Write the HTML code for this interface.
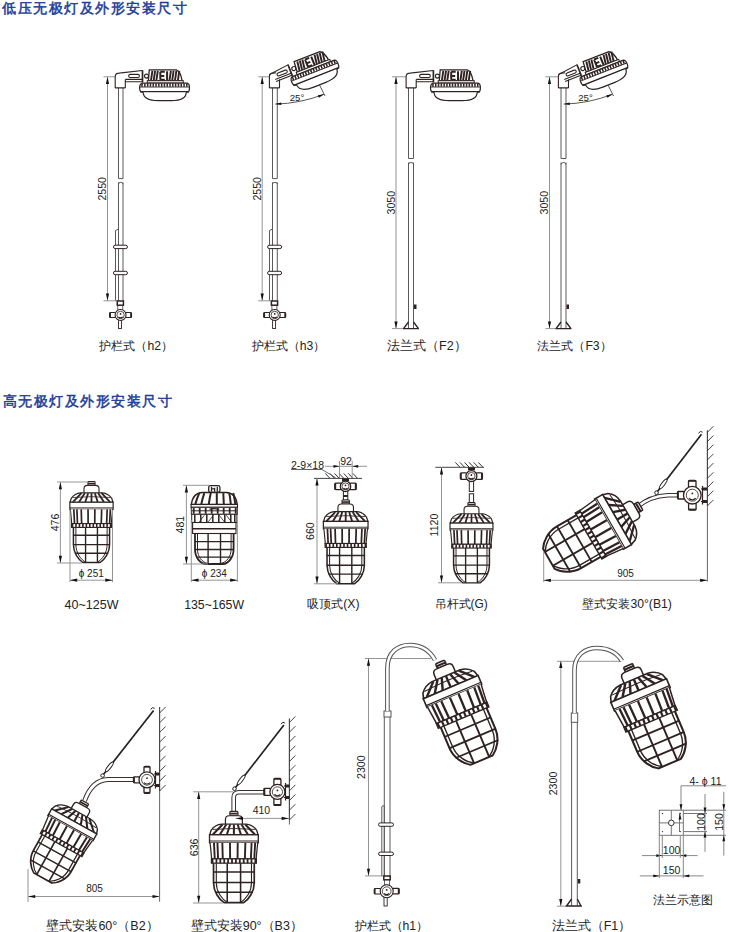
<!DOCTYPE html>
<html><head><meta charset="utf-8"><style>
html,body{margin:0;padding:0;background:#fff;width:730px;height:932px;overflow:hidden}
svg{display:block;font-family:"Liberation Sans",sans-serif}
</style></head><body>
<svg width="730" height="932" viewBox="0 0 730 932">
<text x="2" y="7.6" dominant-baseline="central" font-size="14.2" letter-spacing="1.5" fill="#1d3d98" stroke="#1d3d98" stroke-width="0.5">低压无极灯及外形安装尺寸</text>
<text x="2.5" y="400.7" dominant-baseline="central" font-size="14.2" letter-spacing="1.5" fill="#1d3d98" stroke="#1d3d98" stroke-width="0.5">高无极灯及外形安装尺寸</text>
<text x="99.4" y="346.2" text-anchor="start" dominant-baseline="central" font-size="12.2" fill="#222">护栏式（h2）</text>
<text x="251.7" y="346.2" text-anchor="start" dominant-baseline="central" font-size="12.2" fill="#222">护栏式（h3）</text>
<text x="387" y="346.2" text-anchor="start" dominant-baseline="central" font-size="12.5" fill="#222">法兰式（F2）</text>
<text x="537.4" y="346.2" text-anchor="start" dominant-baseline="central" font-size="12.2" fill="#222">法兰式（F3）</text>
<text x="64.6" y="605" text-anchor="start" dominant-baseline="central" font-size="12.5" fill="#222">40~125W</text>
<text x="184.2" y="605" text-anchor="start" dominant-baseline="central" font-size="12.3" fill="#222">135~165W</text>
<text x="307.2" y="604" text-anchor="start" dominant-baseline="central" font-size="12.2" fill="#222">吸顶式(X)</text>
<text x="434.6" y="604" text-anchor="start" dominant-baseline="central" font-size="11.9" fill="#222">吊杆式(G)</text>
<text x="582.4" y="603.5" text-anchor="start" dominant-baseline="central" font-size="12.2" fill="#222">壁式安装30°(B1)</text>
<text x="46.4" y="926" text-anchor="start" dominant-baseline="central" font-size="12.5" fill="#222">壁式安装60°（B2）</text>
<text x="190.7" y="926" text-anchor="start" dominant-baseline="central" font-size="12.5" fill="#222">壁式安装90°（B3）</text>
<text x="354.6" y="926" text-anchor="start" dominant-baseline="central" font-size="12.2" fill="#222">护栏式（h1）</text>
<text x="551.7" y="926" text-anchor="start" dominant-baseline="central" font-size="12.5" fill="#222">法兰式（F1）</text>
<text x="653.3" y="900" text-anchor="start" dominant-baseline="central" font-size="11.9" fill="#222">法兰示意图</text>
<g transform="translate(91.5,481.5) rotate(0) scale(0.9878048780487805)"><rect x="-3.6" y="0" width="7.2" height="3.9" rx="0.8" fill="#fff" stroke="#2e2222" stroke-width="1.1"/><line x1="-3.4" y1="2" x2="3.4" y2="2" stroke="#2e2222" stroke-width="1.6"/><path d="M-7.6,11.6 L-7.6,7.2 Q-7.6,3.9 -4.2,3.9 L4.2,3.9 Q7.6,3.9 7.6,7.2 L7.6,11.6" fill="#fff" stroke="#2e2222" stroke-width="1.1"/><path d="M-21.7,21 L-20.5,17 Q-17,12 -11,11.5 L11,11.5 Q17,12 20.5,17 L21.7,21 Z" fill="#fff" stroke="#2e2222" stroke-width="1.2"/><line x1="-10.2" y1="11.8" x2="-18.9" y2="20.8" stroke="#2e2222" stroke-width="1.8"/><line x1="-6.8" y1="11.8" x2="-12.6" y2="20.8" stroke="#2e2222" stroke-width="1.8"/><line x1="-3.4" y1="11.8" x2="-6.3" y2="20.8" stroke="#2e2222" stroke-width="1.8"/><line x1="0.0" y1="11.8" x2="0.0" y2="20.8" stroke="#2e2222" stroke-width="1.8"/><line x1="3.4" y1="11.8" x2="6.3" y2="20.8" stroke="#2e2222" stroke-width="1.8"/><line x1="6.8" y1="11.8" x2="12.6" y2="20.8" stroke="#2e2222" stroke-width="1.8"/><line x1="10.2" y1="11.8" x2="18.9" y2="20.8" stroke="#2e2222" stroke-width="1.8"/><path d="M-19,16.2 Q0,14.5 19,16.2" fill="none" stroke="#2e2222" stroke-width="0.8"/><rect x="-21.9" y="21" width="43.8" height="7.2" fill="#fff" stroke="#2e2222" stroke-width="1.2"/><line x1="-21.9" y1="26.7" x2="21.9" y2="26.7" stroke="#2e2222" stroke-width="0.9"/><path d="M-21.4,28.2 C-20.8,34 -20.4,38 -20,42.6 L20,42.6 C20.4,38 20.8,34 21.4,28.2" fill="#fff" stroke="#2e2222" stroke-width="1.1"/><line x1="-17.9" y1="28.2" x2="-17.2" y2="42.6" stroke="#2e2222" stroke-width="1.7"/><line x1="-14.8" y1="28.2" x2="-14.2" y2="42.6" stroke="#2e2222" stroke-width="1.7"/><line x1="-10.4" y1="28.2" x2="-10.0" y2="42.6" stroke="#2e2222" stroke-width="1.7"/><line x1="-3.5" y1="28.2" x2="-3.4" y2="42.6" stroke="#2e2222" stroke-width="1.7"/><line x1="3.4" y1="28.2" x2="3.3" y2="42.6" stroke="#2e2222" stroke-width="1.7"/><line x1="10.3" y1="28.2" x2="9.9" y2="42.6" stroke="#2e2222" stroke-width="1.7"/><line x1="15.9" y1="28.2" x2="15.3" y2="42.6" stroke="#2e2222" stroke-width="1.7"/><line x1="19.1" y1="28.2" x2="18.3" y2="42.6" stroke="#2e2222" stroke-width="1.7"/><rect x="-20.2" y="42.6" width="40.4" height="3.9" fill="#fff" stroke="#2e2222" stroke-width="1.1"/><line x1="-20" y1="44.55" x2="20" y2="44.55" stroke="#2e2222" stroke-width="3.9" stroke-dasharray="1.6 1.9"/><path d="M-18.3,46.5 L-18.3,64 C-18.3,72 -13.5,79 -8.8,82 L8.8,82 C13.5,79 18.3,72 18.3,64 L18.3,46.5" fill="none" stroke="#2e2222" stroke-width="1.5"/><path d="M-15.8,46.5 L-15.8,64 C-15.8,72 -11,79 -5.5,82 M15.8,46.5 L15.8,64 C15.8,72 11,79 5.5,82" fill="none" stroke="#2e2222" stroke-width="1"/><path d="M-6,46.5 L-6,82 M6,46.5 L6,82" fill="none" stroke="#2e2222" stroke-width="1.4"/><path d="M-18.6,54.4 L18.6,54.4 M-18.6,63.9 L18.6,63.9 M-17,72.7 L17,72.7" fill="none" stroke="#2e2222" stroke-width="1.4"/></g>
<line x1="60.4" y1="482" x2="60.4" y2="563" stroke="#959595" stroke-width="1"/>
<path d="M60.4,482.0 L62.0,489.2 L58.8,489.2 Z" fill="#111"/>
<path d="M60.4,563.0 L58.8,555.8 L62.0,555.8 Z" fill="#111"/>
<text x="55" y="522.5" transform="rotate(-90 55 522.5)" text-anchor="middle" dominant-baseline="central" font-size="10.6" fill="#222">476</text>
<line x1="57" y1="482" x2="88" y2="482" stroke="#959595" stroke-width="1"/>
<line x1="57" y1="563" x2="82" y2="563" stroke="#959595" stroke-width="1"/>
<line x1="70" y1="510" x2="70" y2="582" stroke="#959595" stroke-width="1"/>
<line x1="112.5" y1="510" x2="112.5" y2="582" stroke="#959595" stroke-width="1"/>
<line x1="70" y1="580.2" x2="112.5" y2="580.2" stroke="#959595" stroke-width="1"/>
<path d="M70.0,580.2 L77.2,578.6 L77.2,581.8 Z" fill="#111"/>
<path d="M112.5,580.2 L105.3,581.8 L105.3,578.6 Z" fill="#111"/>
<text x="91.25" y="573.6" text-anchor="middle" dominant-baseline="central" font-size="10" fill="#222">ϕ 251</text>
<g transform="translate(214.3,485.3) rotate(0) scale(1.0)"><rect x="-5.6" y="0.4" width="11.2" height="6.8" rx="1.8" fill="#fff" stroke="#2e2222" stroke-width="1.3"/><path d="M-2.8,1.5 L-2.8,6.5 M0.3,2.5 L0.3,6.5 M3,1.5 L3,6.5 M-2.8,3.5 L0.3,3.5" stroke="#2e2222" stroke-width="1.3"/><path d="M-23,19.2 C-22,12 -19,7.4 -12,7.2 L12,7.2 C19,7.4 22,12 23,19.2 Z" fill="#fff" stroke="#2e2222" stroke-width="1.4"/><path d="M-15,7.8 Q-17.0,12 -19,18.8" fill="none" stroke="#2e2222" stroke-width="2"/><path d="M-10,7.8 Q-11.5,12 -13,18.8" fill="none" stroke="#2e2222" stroke-width="2"/><path d="M-3.5,7.8 Q-4.5,12 -5.5,18.8" fill="none" stroke="#2e2222" stroke-width="2"/><path d="M2.5,7.8 Q2.5,12 2.5,18.8" fill="none" stroke="#2e2222" stroke-width="2"/><path d="M9,7.8 Q9.2,12 9.5,18.8" fill="none" stroke="#2e2222" stroke-width="2"/><path d="M15,7.8 Q15.8,12 16.5,18.8" fill="none" stroke="#2e2222" stroke-width="2"/><path d="M19,7.8 Q20.0,12 21,18.8" fill="none" stroke="#2e2222" stroke-width="2"/><rect x="-23.2" y="19.2" width="46.4" height="2.8" fill="#fff" stroke="#2e2222" stroke-width="1.1"/><rect x="-23" y="22" width="46" height="7" fill="#fff" stroke="#2e2222" stroke-width="1"/><line x1="-22.5" y1="25.5" x2="22.5" y2="25.5" stroke="#2e2222" stroke-width="1"/><rect x="-21.5" y="22.6" width="1.8" height="5.8" fill="#2e2222"/><rect x="-15.5" y="22.6" width="1.8" height="5.8" fill="#2e2222"/><rect x="-9.5" y="22.6" width="1.8" height="5.8" fill="#2e2222"/><rect x="-3.5" y="22.6" width="1.8" height="5.8" fill="#2e2222"/><rect x="2.5" y="22.6" width="1.8" height="5.8" fill="#2e2222"/><rect x="8.5" y="22.6" width="1.8" height="5.8" fill="#2e2222"/><rect x="14.5" y="22.6" width="1.8" height="5.8" fill="#2e2222"/><rect x="20.5" y="22.6" width="1.8" height="5.8" fill="#2e2222"/><path d="M-5,24 Q0,22.5 5,24" stroke="#2e2222" stroke-width="1.2" fill="none"/><rect x="-22.6" y="29" width="45.2" height="8.2" fill="#fff" stroke="#2e2222" stroke-width="1"/><line x1="-19.5" y1="29" x2="-19.5" y2="37.2" stroke="#2e2222" stroke-width="1.5"/><line x1="-13.5" y1="29" x2="-13.5" y2="37.2" stroke="#2e2222" stroke-width="1.5"/><line x1="-7.5" y1="29" x2="-7.5" y2="37.2" stroke="#2e2222" stroke-width="1.5"/><line x1="-1.5" y1="29" x2="-1.5" y2="37.2" stroke="#2e2222" stroke-width="1.5"/><line x1="4.5" y1="29" x2="4.5" y2="37.2" stroke="#2e2222" stroke-width="1.5"/><line x1="10.5" y1="29" x2="10.5" y2="37.2" stroke="#2e2222" stroke-width="1.5"/><line x1="16.5" y1="29" x2="16.5" y2="37.2" stroke="#2e2222" stroke-width="1.5"/><line x1="20.5" y1="29" x2="20.5" y2="37.2" stroke="#2e2222" stroke-width="1.5"/><path d="M-15,36.5 L-10,30 M-6,36.5 L-1,30 M5,30 L10,36.5 M12,30 L17,36.5" stroke="#2e2222" stroke-width="0.8"/><rect x="-21.7" y="37.2" width="43.4" height="11" fill="#fff" stroke="#2e2222" stroke-width="1.1"/><line x1="-21.7" y1="43.5" x2="21.7" y2="43.5" stroke="#2e2222" stroke-width="1.4"/><path d="M-19.3,48.2 L-19.3,64 C-19.3,72 -14,78.7 -8.5,78.7 L8.5,78.7 C14,78.7 19.3,72 19.3,64 L19.3,48.2" fill="none" stroke="#2e2222" stroke-width="1.8"/><path d="M-16.8,48.2 L-16.8,64 C-16.8,71 -12.5,77 -6.5,78.2 M16.8,48.2 L16.8,64 C16.8,71 12.5,77 6.5,78.2" fill="none" stroke="#2e2222" stroke-width="1"/><path d="M-6.2,48.2 L-6.2,78.7 M6.2,48.2 L6.2,78.7" fill="none" stroke="#2e2222" stroke-width="1.4"/><path d="M-19.5,56.3 L19.5,56.3 M-19.5,64.2 L19.5,64.2 M-17.5,71.8 L17.5,71.8" fill="none" stroke="#2e2222" stroke-width="1.4"/></g>
<line x1="186.4" y1="485.3" x2="186.4" y2="564" stroke="#959595" stroke-width="1"/>
<path d="M186.4,485.3 L188.0,492.5 L184.8,492.5 Z" fill="#111"/>
<path d="M186.4,564.0 L184.8,556.8 L188.0,556.8 Z" fill="#111"/>
<text x="180" y="524.65" transform="rotate(-90 180 524.65)" text-anchor="middle" dominant-baseline="central" font-size="10.6" fill="#222">481</text>
<line x1="183" y1="485.3" x2="209" y2="485.3" stroke="#959595" stroke-width="1"/>
<line x1="183" y1="564" x2="208" y2="564" stroke="#959595" stroke-width="1"/>
<line x1="191.3" y1="520" x2="191.3" y2="582" stroke="#959595" stroke-width="1"/>
<line x1="237.4" y1="520" x2="237.4" y2="582" stroke="#959595" stroke-width="1"/>
<line x1="191.3" y1="580.2" x2="237.4" y2="580.2" stroke="#959595" stroke-width="1"/>
<path d="M191.3,580.2 L198.5,578.6 L198.5,581.8 Z" fill="#111"/>
<path d="M237.4,580.2 L230.2,581.8 L230.2,578.6 Z" fill="#111"/>
<text x="214.35000000000002" y="573.6" text-anchor="middle" dominant-baseline="central" font-size="10" fill="#222">ϕ 234</text>
<path d="M118.5,178.6 L118.5,88 M123,88 L123,178.6 M118.5,301 L118.5,182.3 M123,182.3 L123,301 " stroke="#5a5a5a" stroke-width="1" fill="none"/>
<path d="M118.5,178.6 L123,178.6" stroke="#5a5a5a" stroke-width="1" fill="none"/>
<path d="M118.5,184.3 Q118.5,182.3 120.75,182.3 Q123,182.3 123,184.3" stroke="#5a5a5a" stroke-width="1" fill="none"/>
<path d="M118.5,229 L115.5,230.5 L115.5,301" stroke="#5a5a5a" stroke-width="1" fill="none"/>
<rect x="113.45" y="245.20000000000002" width="14" height="3.4" rx="1.7" fill="#fff" stroke="#2e2222" stroke-width="1"/>
<rect x="113.45" y="271.3" width="14" height="3.4" rx="1.7" fill="#fff" stroke="#2e2222" stroke-width="1"/>
<line x1="107.5" y1="76.8" x2="107.5" y2="300.8" stroke="#959595" stroke-width="1"/>
<path d="M107.5,76.8 L109.1,84.0 L105.9,84.0 Z" fill="#111"/>
<path d="M107.5,300.8 L105.9,293.6 L109.1,293.6 Z" fill="#111"/>
<text x="102.0" y="188.8" transform="rotate(-90 102.0 188.8)" text-anchor="middle" dominant-baseline="central" font-size="10.6" fill="#222">2550</text>
<line x1="103.5" y1="76.8" x2="115.3" y2="76.8" stroke="#959595" stroke-width="1"/>
<line x1="103.5" y1="300.8" x2="118.5" y2="300.8" stroke="#959595" stroke-width="1"/>
<rect x="118.45" y="319" width="3" height="9.5" fill="#fff" stroke="#2e2222" stroke-width="0.9"/>
<rect x="117.75" y="304" width="5" height="6" fill="#fff" stroke="#555" stroke-width="0.9"/>
<rect x="117.25" y="301" width="6.2" height="4.2" fill="#fff" stroke="#2e2222" stroke-width="1.5"/>
<g transform="translate(120.55,315) rotate(180)"><rect x="4.5" y="-2.5" width="6.5" height="5.0" rx="1" fill="#fff" stroke="#2e2222" stroke-width="1.1"/><line x1="10.4" y1="-2.5" x2="10.4" y2="2.5" stroke="#2e2222" stroke-width="1.6"/></g><g transform="translate(120.55,315) rotate(0)"><rect x="4.5" y="-2.5" width="6.5" height="5.0" rx="1" fill="#fff" stroke="#2e2222" stroke-width="1.1"/><line x1="10.4" y1="-2.5" x2="10.4" y2="2.5" stroke="#2e2222" stroke-width="1.6"/></g><circle cx="120.55" cy="315" r="5.5" fill="#fff" stroke="#2e2222" stroke-width="1.1"/><circle cx="120.55" cy="315" r="3.7" fill="none" stroke="#2e2222" stroke-width="0.8"/><path d="M118.3,316.9 Q120.55,318.9 122.8,316.9" fill="none" stroke="#2e2222" stroke-width="1.2"/><circle cx="120.55" cy="313.9" r="0.9" fill="#2e2222"/>
<g transform="translate(117.3,76.8)"><g><path d="M4,-3.9 L25,-6.3 M8,2.6 L25,2.6 M8,4.9 L25,4.9" fill="none" stroke="#2e2222" stroke-width="1.1"/><rect x="11.4" y="-2.4" width="10.7" height="3.1" rx="1.5" fill="#fff" stroke="#2e2222" stroke-width="1.1"/><line x1="25.2" y1="-6.6" x2="25.2" y2="5.6" stroke="#2e2222" stroke-width="1.7"/><circle cx="29.2" cy="-0.7" r="2" fill="#fff" stroke="#2e2222" stroke-width="1.1"/><path d="M31.1,3.9 L32,-7 L59,-7 Q63,-6 64.8,3.9 Z" fill="#fff" stroke="#2e2222" stroke-width="1.3"/><line x1="35.099999999999994" y1="-6" x2="33.699999999999996" y2="3.5" stroke="#2e2222" stroke-width="1.9"/><line x1="37.8" y1="-6" x2="36.4" y2="3.5" stroke="#2e2222" stroke-width="1.9"/><line x1="40.5" y1="-6" x2="39.1" y2="3.5" stroke="#2e2222" stroke-width="1.9"/><line x1="53.599999999999994" y1="-6" x2="52.199999999999996" y2="3.5" stroke="#2e2222" stroke-width="1.9"/><line x1="56.3" y1="-6" x2="54.9" y2="3.5" stroke="#2e2222" stroke-width="1.9"/><line x1="59.099999999999994" y1="-6" x2="57.699999999999996" y2="3.5" stroke="#2e2222" stroke-width="1.9"/><line x1="62.0" y1="-6" x2="60.6" y2="3.5" stroke="#2e2222" stroke-width="1.9"/><path d="M43,-5 L43,3 M43,-5 L47.5,-5 M43,-0.8 L47,-0.8 M43,3 L47.5,3 M49.8,-5.5 L49.8,3.5" stroke="#2e2222" stroke-width="2" fill="none"/><rect x="30" y="3.9" width="36" height="2.4" fill="#fff" stroke="#2e2222" stroke-width="1"/><path d="M25,6.3 L70,6.3 Q72.2,7 72.2,11 Q72.2,15.2 70,15.4 L25,15.4 Q22.3,15.2 22.3,11 Q22.3,7 25,6.3 Z" fill="#fff" stroke="#2e2222" stroke-width="1.2"/><line x1="24" y1="8.3" x2="71" y2="8.3" stroke="#2e2222" stroke-width="3.2" stroke-dasharray="1.5 1.3"/><line x1="22.5" y1="10.2" x2="72" y2="10.2" stroke="#2e2222" stroke-width="0.9"/><line x1="22.8" y1="15" x2="71.8" y2="15" stroke="#2e2222" stroke-width="1.6"/><path d="M25.8,15.5 Q26.2,23.9 41,23.9 L54,23.9 Q68.8,23.9 69,15.5" fill="#fff" stroke="#2e2222" stroke-width="1.2"/></g><path d="M-2.1,11.1 L-2.1,0 Q-2.1,-3.6 1.8,-3.7 L4.5,-4 M8,11.1 L8,2.6 M-2.1,11.1 L8,11.1" fill="#fff" stroke="#2e2222" stroke-width="1.1"/></g>
<path d="M272.5,178.6 L272.5,88 M277.3,88 L277.3,178.6 M272.5,301 L272.5,182.3 M277.3,182.3 L277.3,301 " stroke="#5a5a5a" stroke-width="1" fill="none"/>
<path d="M272.5,178.6 L277.3,178.6" stroke="#5a5a5a" stroke-width="1" fill="none"/>
<path d="M272.5,184.3 Q272.5,182.3 274.9,182.3 Q277.3,182.3 277.3,184.3" stroke="#5a5a5a" stroke-width="1" fill="none"/>
<path d="M272.5,229 L269.5,230.5 L269.5,301" stroke="#5a5a5a" stroke-width="1" fill="none"/>
<rect x="267.59999999999997" y="245.20000000000002" width="14" height="3.4" rx="1.7" fill="#fff" stroke="#2e2222" stroke-width="1"/>
<rect x="267.59999999999997" y="271.3" width="14" height="3.4" rx="1.7" fill="#fff" stroke="#2e2222" stroke-width="1"/>
<line x1="262.2" y1="76.8" x2="262.2" y2="300.8" stroke="#959595" stroke-width="1"/>
<path d="M262.2,76.8 L263.8,84.0 L260.6,84.0 Z" fill="#111"/>
<path d="M262.2,300.8 L260.6,293.6 L263.8,293.6 Z" fill="#111"/>
<text x="256.7" y="188.8" transform="rotate(-90 256.7 188.8)" text-anchor="middle" dominant-baseline="central" font-size="10.6" fill="#222">2550</text>
<line x1="258.2" y1="76.8" x2="269.5" y2="76.8" stroke="#959595" stroke-width="1"/>
<line x1="258.2" y1="300.8" x2="272.5" y2="300.8" stroke="#959595" stroke-width="1"/>
<rect x="272.59999999999997" y="319" width="3" height="9.5" fill="#fff" stroke="#2e2222" stroke-width="0.9"/>
<rect x="271.9" y="304" width="5" height="6" fill="#fff" stroke="#555" stroke-width="0.9"/>
<rect x="271.4" y="301" width="6.2" height="4.2" fill="#fff" stroke="#2e2222" stroke-width="1.5"/>
<g transform="translate(274.7,315) rotate(180)"><rect x="4.5" y="-2.5" width="6.5" height="5.0" rx="1" fill="#fff" stroke="#2e2222" stroke-width="1.1"/><line x1="10.4" y1="-2.5" x2="10.4" y2="2.5" stroke="#2e2222" stroke-width="1.6"/></g><g transform="translate(274.7,315) rotate(0)"><rect x="4.5" y="-2.5" width="6.5" height="5.0" rx="1" fill="#fff" stroke="#2e2222" stroke-width="1.1"/><line x1="10.4" y1="-2.5" x2="10.4" y2="2.5" stroke="#2e2222" stroke-width="1.6"/></g><circle cx="274.7" cy="315" r="5.5" fill="#fff" stroke="#2e2222" stroke-width="1.1"/><circle cx="274.7" cy="315" r="3.7" fill="none" stroke="#2e2222" stroke-width="0.8"/><path d="M272.5,316.9 Q274.7,318.9 276.9,316.9" fill="none" stroke="#2e2222" stroke-width="1.2"/><circle cx="274.7" cy="313.9" r="0.9" fill="#2e2222"/>
<g transform="translate(271.5,76.8)"><g transform="translate(-3.5,1) rotate(-21.5 5 4)"><path d="M4,-3.9 L25,-6.3 M8,2.6 L25,2.6 M8,4.9 L25,4.9" fill="none" stroke="#2e2222" stroke-width="1.1"/><rect x="11.4" y="-2.4" width="10.7" height="3.1" rx="1.5" fill="#fff" stroke="#2e2222" stroke-width="1.1"/><line x1="25.2" y1="-6.6" x2="25.2" y2="5.6" stroke="#2e2222" stroke-width="1.7"/><circle cx="29.2" cy="-0.7" r="2" fill="#fff" stroke="#2e2222" stroke-width="1.1"/><path d="M31.1,3.9 L32,-7 L59,-7 Q63,-6 64.8,3.9 Z" fill="#fff" stroke="#2e2222" stroke-width="1.3"/><line x1="35.099999999999994" y1="-6" x2="33.699999999999996" y2="3.5" stroke="#2e2222" stroke-width="1.9"/><line x1="37.8" y1="-6" x2="36.4" y2="3.5" stroke="#2e2222" stroke-width="1.9"/><line x1="40.5" y1="-6" x2="39.1" y2="3.5" stroke="#2e2222" stroke-width="1.9"/><line x1="53.599999999999994" y1="-6" x2="52.199999999999996" y2="3.5" stroke="#2e2222" stroke-width="1.9"/><line x1="56.3" y1="-6" x2="54.9" y2="3.5" stroke="#2e2222" stroke-width="1.9"/><line x1="59.099999999999994" y1="-6" x2="57.699999999999996" y2="3.5" stroke="#2e2222" stroke-width="1.9"/><line x1="62.0" y1="-6" x2="60.6" y2="3.5" stroke="#2e2222" stroke-width="1.9"/><path d="M43,-5 L43,3 M43,-5 L47.5,-5 M43,-0.8 L47,-0.8 M43,3 L47.5,3 M49.8,-5.5 L49.8,3.5" stroke="#2e2222" stroke-width="2" fill="none"/><rect x="30" y="3.9" width="36" height="2.4" fill="#fff" stroke="#2e2222" stroke-width="1"/><path d="M25,6.3 L70,6.3 Q72.2,7 72.2,11 Q72.2,15.2 70,15.4 L25,15.4 Q22.3,15.2 22.3,11 Q22.3,7 25,6.3 Z" fill="#fff" stroke="#2e2222" stroke-width="1.2"/><line x1="24" y1="8.3" x2="71" y2="8.3" stroke="#2e2222" stroke-width="3.2" stroke-dasharray="1.5 1.3"/><line x1="22.5" y1="10.2" x2="72" y2="10.2" stroke="#2e2222" stroke-width="0.9"/><line x1="22.8" y1="15" x2="71.8" y2="15" stroke="#2e2222" stroke-width="1.6"/><path d="M25.8,15.5 Q26.2,23.9 41,23.9 L54,23.9 Q68.8,23.9 69,15.5" fill="#fff" stroke="#2e2222" stroke-width="1.2"/></g><path d="M-2.1,11.1 L-2.1,0 Q-2.1,-3.6 1.8,-3.7 L4.5,-4 M8,11.1 L8,2.6 M-2.1,11.1 L8,11.1" fill="#fff" stroke="#2e2222" stroke-width="1.1"/></g>
<path d="M408.5,158.5 L408.5,88 M413.5,88 L413.5,158.5 M408.5,328.6 L408.5,162.5 M413.5,162.5 L413.5,328.6 " stroke="#5a5a5a" stroke-width="1" fill="none"/>
<path d="M408.5,158.5 L413.5,158.5" stroke="#5a5a5a" stroke-width="1" fill="none"/>
<path d="M408.5,164.5 Q408.5,162.5 411.0,162.5 Q413.5,162.5 413.5,164.5" stroke="#5a5a5a" stroke-width="1" fill="none"/>
<line x1="396" y1="76.8" x2="396" y2="328.6" stroke="#959595" stroke-width="1"/>
<path d="M396.0,76.8 L397.6,84.0 L394.4,84.0 Z" fill="#111"/>
<path d="M396.0,328.6 L394.4,321.4 L397.6,321.4 Z" fill="#111"/>
<text x="391" y="202.70000000000002" transform="rotate(-90 391 202.70000000000002)" text-anchor="middle" dominant-baseline="central" font-size="10.6" fill="#222">3050</text>
<line x1="392" y1="76.8" x2="406.2" y2="76.8" stroke="#959595" stroke-width="1"/>
<line x1="392" y1="328.6" x2="404.5" y2="328.6" stroke="#959595" stroke-width="1"/>
<path d="M403.0,328.6 L419.0,328.6 M408.5,322 L403.5,328.6 M413.5,322 L418.5,328.6" stroke="#2e2222" stroke-width="1.4" fill="none"/>
<rect x="414.0" y="304.5" width="2.5" height="4.5" fill="#2e2222"/>
<g transform="translate(408.2,76.8)"><g><path d="M4,-3.9 L25,-6.3 M8,2.6 L25,2.6 M8,4.9 L25,4.9" fill="none" stroke="#2e2222" stroke-width="1.1"/><rect x="11.4" y="-2.4" width="10.7" height="3.1" rx="1.5" fill="#fff" stroke="#2e2222" stroke-width="1.1"/><line x1="25.2" y1="-6.6" x2="25.2" y2="5.6" stroke="#2e2222" stroke-width="1.7"/><circle cx="29.2" cy="-0.7" r="2" fill="#fff" stroke="#2e2222" stroke-width="1.1"/><path d="M31.1,3.9 L32,-7 L59,-7 Q63,-6 64.8,3.9 Z" fill="#fff" stroke="#2e2222" stroke-width="1.3"/><line x1="35.099999999999994" y1="-6" x2="33.699999999999996" y2="3.5" stroke="#2e2222" stroke-width="1.9"/><line x1="37.8" y1="-6" x2="36.4" y2="3.5" stroke="#2e2222" stroke-width="1.9"/><line x1="40.5" y1="-6" x2="39.1" y2="3.5" stroke="#2e2222" stroke-width="1.9"/><line x1="53.599999999999994" y1="-6" x2="52.199999999999996" y2="3.5" stroke="#2e2222" stroke-width="1.9"/><line x1="56.3" y1="-6" x2="54.9" y2="3.5" stroke="#2e2222" stroke-width="1.9"/><line x1="59.099999999999994" y1="-6" x2="57.699999999999996" y2="3.5" stroke="#2e2222" stroke-width="1.9"/><line x1="62.0" y1="-6" x2="60.6" y2="3.5" stroke="#2e2222" stroke-width="1.9"/><path d="M43,-5 L43,3 M43,-5 L47.5,-5 M43,-0.8 L47,-0.8 M43,3 L47.5,3 M49.8,-5.5 L49.8,3.5" stroke="#2e2222" stroke-width="2" fill="none"/><rect x="30" y="3.9" width="36" height="2.4" fill="#fff" stroke="#2e2222" stroke-width="1"/><path d="M25,6.3 L70,6.3 Q72.2,7 72.2,11 Q72.2,15.2 70,15.4 L25,15.4 Q22.3,15.2 22.3,11 Q22.3,7 25,6.3 Z" fill="#fff" stroke="#2e2222" stroke-width="1.2"/><line x1="24" y1="8.3" x2="71" y2="8.3" stroke="#2e2222" stroke-width="3.2" stroke-dasharray="1.5 1.3"/><line x1="22.5" y1="10.2" x2="72" y2="10.2" stroke="#2e2222" stroke-width="0.9"/><line x1="22.8" y1="15" x2="71.8" y2="15" stroke="#2e2222" stroke-width="1.6"/><path d="M25.8,15.5 Q26.2,23.9 41,23.9 L54,23.9 Q68.8,23.9 69,15.5" fill="#fff" stroke="#2e2222" stroke-width="1.2"/></g><path d="M-2.1,11.1 L-2.1,0 Q-2.1,-3.6 1.8,-3.7 L4.5,-4 M8,11.1 L8,2.6 M-2.1,11.1 L8,11.1" fill="#fff" stroke="#2e2222" stroke-width="1.1"/></g>
<path d="M561,158.5 L561,88 M566,88 L566,158.5 M561,328.6 L561,162.5 M566,162.5 L566,328.6 " stroke="#5a5a5a" stroke-width="1" fill="none"/>
<path d="M561,158.5 L566,158.5" stroke="#5a5a5a" stroke-width="1" fill="none"/>
<path d="M561,164.5 Q561,162.5 563.5,162.5 Q566,162.5 566,164.5" stroke="#5a5a5a" stroke-width="1" fill="none"/>
<line x1="549.5" y1="76.8" x2="549.5" y2="328.6" stroke="#959595" stroke-width="1"/>
<path d="M549.5,76.8 L551.1,84.0 L547.9,84.0 Z" fill="#111"/>
<path d="M549.5,328.6 L547.9,321.4 L551.1,321.4 Z" fill="#111"/>
<text x="544.5" y="202.70000000000002" transform="rotate(-90 544.5 202.70000000000002)" text-anchor="middle" dominant-baseline="central" font-size="10.6" fill="#222">3050</text>
<line x1="545.5" y1="76.8" x2="558.5" y2="76.8" stroke="#959595" stroke-width="1"/>
<line x1="545.5" y1="328.6" x2="557" y2="328.6" stroke="#959595" stroke-width="1"/>
<path d="M555.5,328.6 L571.5,328.6 M561,322 L556,328.6 M566,322 L571,328.6" stroke="#2e2222" stroke-width="1.4" fill="none"/>
<rect x="566.5" y="304.5" width="2.5" height="4.5" fill="#2e2222"/>
<g transform="translate(560.5,76.8)"><g transform="translate(-3.5,1) rotate(-21.5 5 4)"><path d="M4,-3.9 L25,-6.3 M8,2.6 L25,2.6 M8,4.9 L25,4.9" fill="none" stroke="#2e2222" stroke-width="1.1"/><rect x="11.4" y="-2.4" width="10.7" height="3.1" rx="1.5" fill="#fff" stroke="#2e2222" stroke-width="1.1"/><line x1="25.2" y1="-6.6" x2="25.2" y2="5.6" stroke="#2e2222" stroke-width="1.7"/><circle cx="29.2" cy="-0.7" r="2" fill="#fff" stroke="#2e2222" stroke-width="1.1"/><path d="M31.1,3.9 L32,-7 L59,-7 Q63,-6 64.8,3.9 Z" fill="#fff" stroke="#2e2222" stroke-width="1.3"/><line x1="35.099999999999994" y1="-6" x2="33.699999999999996" y2="3.5" stroke="#2e2222" stroke-width="1.9"/><line x1="37.8" y1="-6" x2="36.4" y2="3.5" stroke="#2e2222" stroke-width="1.9"/><line x1="40.5" y1="-6" x2="39.1" y2="3.5" stroke="#2e2222" stroke-width="1.9"/><line x1="53.599999999999994" y1="-6" x2="52.199999999999996" y2="3.5" stroke="#2e2222" stroke-width="1.9"/><line x1="56.3" y1="-6" x2="54.9" y2="3.5" stroke="#2e2222" stroke-width="1.9"/><line x1="59.099999999999994" y1="-6" x2="57.699999999999996" y2="3.5" stroke="#2e2222" stroke-width="1.9"/><line x1="62.0" y1="-6" x2="60.6" y2="3.5" stroke="#2e2222" stroke-width="1.9"/><path d="M43,-5 L43,3 M43,-5 L47.5,-5 M43,-0.8 L47,-0.8 M43,3 L47.5,3 M49.8,-5.5 L49.8,3.5" stroke="#2e2222" stroke-width="2" fill="none"/><rect x="30" y="3.9" width="36" height="2.4" fill="#fff" stroke="#2e2222" stroke-width="1"/><path d="M25,6.3 L70,6.3 Q72.2,7 72.2,11 Q72.2,15.2 70,15.4 L25,15.4 Q22.3,15.2 22.3,11 Q22.3,7 25,6.3 Z" fill="#fff" stroke="#2e2222" stroke-width="1.2"/><line x1="24" y1="8.3" x2="71" y2="8.3" stroke="#2e2222" stroke-width="3.2" stroke-dasharray="1.5 1.3"/><line x1="22.5" y1="10.2" x2="72" y2="10.2" stroke="#2e2222" stroke-width="0.9"/><line x1="22.8" y1="15" x2="71.8" y2="15" stroke="#2e2222" stroke-width="1.6"/><path d="M25.8,15.5 Q26.2,23.9 41,23.9 L54,23.9 Q68.8,23.9 69,15.5" fill="#fff" stroke="#2e2222" stroke-width="1.2"/></g><path d="M-2.1,11.1 L-2.1,0 Q-2.1,-3.6 1.8,-3.7 L4.5,-4 M8,11.1 L8,2.6 M-2.1,11.1 L8,11.1" fill="#fff" stroke="#2e2222" stroke-width="1.1"/></g>
<path d="M275.3,104.1 Q300,103.5 324,94.3" stroke="#444" stroke-width="0.9" fill="none"/>
<path d="M275.3,104.1 L281.2,102.5 L281.4,105.1 Z" fill="#111"/>
<path d="M324.0,94.3 L318.9,97.7 L317.9,95.3 Z" fill="#111"/>
<line x1="319.5" y1="85" x2="325" y2="96" stroke="#444" stroke-width="0.9"/>
<text x="297" y="97.8" text-anchor="middle" dominant-baseline="central" font-size="9.6" fill="#222">25°</text>
<path d="M563.8,104.1 Q588.5,103.5 612.5,94.3" stroke="#444" stroke-width="0.9" fill="none"/>
<path d="M563.8,104.1 L569.7,102.5 L569.9,105.1 Z" fill="#111"/>
<path d="M612.5,94.3 L607.4,97.7 L606.4,95.3 Z" fill="#111"/>
<line x1="608.0" y1="85" x2="613.5" y2="96" stroke="#444" stroke-width="0.9"/>
<text x="585.5" y="97.8" text-anchor="middle" dominant-baseline="central" font-size="9.6" fill="#222">25°</text>
<line x1="314" y1="478.4" x2="362" y2="478.4" stroke="#444" stroke-width="1"/>
<path d="M325.3,473.4 L330.0,478.4 M329.9,473.4 L334.6,478.4 M334.5,473.4 L339.2,478.4 M339.1,473.4 L343.8,478.4 M343.7,473.4 L348.4,478.4 M348.3,473.4 L353.0,478.4 M352.9,473.4 L357.6,478.4 " stroke="#333" stroke-width="1" fill="none"/>
<rect x="342" y="478.4" width="7" height="3" fill="#2e2222"/>
<rect x="343.4" y="490" width="4.4" height="10" fill="#fff" stroke="#2e2222" stroke-width="1"/>
<line x1="343.4" y1="496" x2="347.8" y2="496" stroke="#2e2222" stroke-width="2"/>
<g transform="translate(345.5,486.4) rotate(180)"><rect x="4.2" y="-3.2" width="6.5" height="6.5" rx="1" fill="#fff" stroke="#2e2222" stroke-width="1.3"/><line x1="10.1" y1="-3.2" x2="10.1" y2="3.2" stroke="#2e2222" stroke-width="1.6"/></g><g transform="translate(345.5,486.4) rotate(0)"><rect x="4.2" y="-3.2" width="6.5" height="6.5" rx="1" fill="#fff" stroke="#2e2222" stroke-width="1.3"/><line x1="10.1" y1="-3.2" x2="10.1" y2="3.2" stroke="#2e2222" stroke-width="1.6"/></g><circle cx="345.5" cy="486.4" r="5.2" fill="#fff" stroke="#2e2222" stroke-width="1.3"/><circle cx="345.5" cy="486.4" r="3.5" fill="none" stroke="#2e2222" stroke-width="0.8"/><path d="M343.4,488.2 Q345.5,490.0 347.6,488.2" fill="none" stroke="#2e2222" stroke-width="1.2"/><circle cx="345.5" cy="485.4" r="0.9" fill="#2e2222"/>
<g transform="translate(345.7,500) rotate(0) scale(1.02)"><rect x="-3.6" y="0" width="7.2" height="3.9" rx="0.8" fill="#fff" stroke="#2e2222" stroke-width="1.1"/><line x1="-3.4" y1="2" x2="3.4" y2="2" stroke="#2e2222" stroke-width="1.6"/><path d="M-7.6,11.6 L-7.6,7.2 Q-7.6,3.9 -4.2,3.9 L4.2,3.9 Q7.6,3.9 7.6,7.2 L7.6,11.6" fill="#fff" stroke="#2e2222" stroke-width="1.1"/><path d="M-21.7,21 L-20.5,17 Q-17,12 -11,11.5 L11,11.5 Q17,12 20.5,17 L21.7,21 Z" fill="#fff" stroke="#2e2222" stroke-width="1.2"/><line x1="-10.2" y1="11.8" x2="-18.9" y2="20.8" stroke="#2e2222" stroke-width="1.8"/><line x1="-6.8" y1="11.8" x2="-12.6" y2="20.8" stroke="#2e2222" stroke-width="1.8"/><line x1="-3.4" y1="11.8" x2="-6.3" y2="20.8" stroke="#2e2222" stroke-width="1.8"/><line x1="0.0" y1="11.8" x2="0.0" y2="20.8" stroke="#2e2222" stroke-width="1.8"/><line x1="3.4" y1="11.8" x2="6.3" y2="20.8" stroke="#2e2222" stroke-width="1.8"/><line x1="6.8" y1="11.8" x2="12.6" y2="20.8" stroke="#2e2222" stroke-width="1.8"/><line x1="10.2" y1="11.8" x2="18.9" y2="20.8" stroke="#2e2222" stroke-width="1.8"/><path d="M-19,16.2 Q0,14.5 19,16.2" fill="none" stroke="#2e2222" stroke-width="0.8"/><rect x="-21.9" y="21" width="43.8" height="7.2" fill="#fff" stroke="#2e2222" stroke-width="1.2"/><line x1="-21.9" y1="26.7" x2="21.9" y2="26.7" stroke="#2e2222" stroke-width="0.9"/><path d="M-21.4,28.2 C-20.8,34 -20.4,38 -20,42.6 L20,42.6 C20.4,38 20.8,34 21.4,28.2" fill="#fff" stroke="#2e2222" stroke-width="1.1"/><line x1="-17.9" y1="28.2" x2="-17.2" y2="42.6" stroke="#2e2222" stroke-width="1.7"/><line x1="-14.8" y1="28.2" x2="-14.2" y2="42.6" stroke="#2e2222" stroke-width="1.7"/><line x1="-10.4" y1="28.2" x2="-10.0" y2="42.6" stroke="#2e2222" stroke-width="1.7"/><line x1="-3.5" y1="28.2" x2="-3.4" y2="42.6" stroke="#2e2222" stroke-width="1.7"/><line x1="3.4" y1="28.2" x2="3.3" y2="42.6" stroke="#2e2222" stroke-width="1.7"/><line x1="10.3" y1="28.2" x2="9.9" y2="42.6" stroke="#2e2222" stroke-width="1.7"/><line x1="15.9" y1="28.2" x2="15.3" y2="42.6" stroke="#2e2222" stroke-width="1.7"/><line x1="19.1" y1="28.2" x2="18.3" y2="42.6" stroke="#2e2222" stroke-width="1.7"/><rect x="-20.2" y="42.6" width="40.4" height="3.9" fill="#fff" stroke="#2e2222" stroke-width="1.1"/><line x1="-20" y1="44.55" x2="20" y2="44.55" stroke="#2e2222" stroke-width="3.9" stroke-dasharray="1.6 1.9"/><path d="M-18.3,46.5 L-18.3,64 C-18.3,72 -13.5,79 -8.8,82 L8.8,82 C13.5,79 18.3,72 18.3,64 L18.3,46.5" fill="none" stroke="#2e2222" stroke-width="1.5"/><path d="M-15.8,46.5 L-15.8,64 C-15.8,72 -11,79 -5.5,82 M15.8,46.5 L15.8,64 C15.8,72 11,79 5.5,82" fill="none" stroke="#2e2222" stroke-width="1"/><path d="M-6,46.5 L-6,82 M6,46.5 L6,82" fill="none" stroke="#2e2222" stroke-width="1.4"/><path d="M-18.6,54.4 L18.6,54.4 M-18.6,63.9 L18.6,63.9 M-17,72.7 L17,72.7" fill="none" stroke="#2e2222" stroke-width="1.4"/></g>
<line x1="317" y1="478.4" x2="317" y2="583.8" stroke="#959595" stroke-width="1"/>
<path d="M317.0,478.4 L318.6,485.6 L315.4,485.6 Z" fill="#111"/>
<path d="M317.0,583.8 L315.4,576.6 L318.6,576.6 Z" fill="#111"/>
<text x="310.5" y="531.0999999999999" transform="rotate(-90 310.5 531.0999999999999)" text-anchor="middle" dominant-baseline="central" font-size="10.6" fill="#222">660</text>
<line x1="314" y1="583.8" x2="338" y2="583.8" stroke="#959595" stroke-width="1"/>
<line x1="325" y1="466.3" x2="367" y2="466.3" stroke="#959595" stroke-width="1"/>
<path d="M339.5,466.3 L333.5,467.7 L333.5,464.9 Z" fill="#111"/>
<path d="M352.2,466.3 L358.2,464.9 L358.2,467.7 Z" fill="#111"/>
<line x1="339.5" y1="461" x2="339.5" y2="478" stroke="#959595" stroke-width="1"/>
<line x1="352.2" y1="461" x2="352.2" y2="478" stroke="#959595" stroke-width="1"/>
<text x="346" y="460.5" text-anchor="middle" dominant-baseline="central" font-size="10.5" fill="#222">92</text>
<text x="307.5" y="465" text-anchor="middle" dominant-baseline="central" font-size="10.5" fill="#222">2-9×18</text>
<path d="M291,469.5 L322,469.5 L335.6,477.7" stroke="#555" stroke-width="0.9" fill="none"/>
<line x1="435.3" y1="467.3" x2="484" y2="467.3" stroke="#444" stroke-width="1"/>
<path d="M455.3,462.4 L460.0,467.3 M459.9,462.4 L464.6,467.3 M464.5,462.4 L469.2,467.3 M469.1,462.4 L473.8,467.3 M473.7,462.4 L478.4,467.3 M478.3,462.4 L483.0,467.3 " stroke="#333" stroke-width="1" fill="none"/>
<rect x="468" y="467.3" width="7" height="3" fill="#2e2222"/>
<rect x="469.3" y="481" width="4.3" height="10.4" fill="#fff" stroke="#2e2222" stroke-width="1"/>
<rect x="469.3" y="493.8" width="4.3" height="8.7" fill="#fff" stroke="#2e2222" stroke-width="1"/>
<g transform="translate(471.4,476.1) rotate(180)"><rect x="4.5" y="-3.2" width="6.5" height="6.5" rx="1" fill="#fff" stroke="#2e2222" stroke-width="1.3"/><line x1="10.4" y1="-3.2" x2="10.4" y2="3.2" stroke="#2e2222" stroke-width="1.6"/></g><g transform="translate(471.4,476.1) rotate(0)"><rect x="4.5" y="-3.2" width="6.5" height="6.5" rx="1" fill="#fff" stroke="#2e2222" stroke-width="1.3"/><line x1="10.4" y1="-3.2" x2="10.4" y2="3.2" stroke="#2e2222" stroke-width="1.6"/></g><circle cx="471.4" cy="476.1" r="5.5" fill="#fff" stroke="#2e2222" stroke-width="1.3"/><circle cx="471.4" cy="476.1" r="3.7" fill="none" stroke="#2e2222" stroke-width="0.8"/><path d="M469.2,478.0 Q471.4,480.0 473.6,478.0" fill="none" stroke="#2e2222" stroke-width="1.2"/><circle cx="471.4" cy="475.0" r="0.9" fill="#2e2222"/>
<g transform="translate(471.5,502.5) rotate(0) scale(0.98)"><rect x="-3.6" y="0" width="7.2" height="3.9" rx="0.8" fill="#fff" stroke="#2e2222" stroke-width="1.1"/><line x1="-3.4" y1="2" x2="3.4" y2="2" stroke="#2e2222" stroke-width="1.6"/><path d="M-7.6,11.6 L-7.6,7.2 Q-7.6,3.9 -4.2,3.9 L4.2,3.9 Q7.6,3.9 7.6,7.2 L7.6,11.6" fill="#fff" stroke="#2e2222" stroke-width="1.1"/><path d="M-21.7,21 L-20.5,17 Q-17,12 -11,11.5 L11,11.5 Q17,12 20.5,17 L21.7,21 Z" fill="#fff" stroke="#2e2222" stroke-width="1.2"/><line x1="-10.2" y1="11.8" x2="-18.9" y2="20.8" stroke="#2e2222" stroke-width="1.8"/><line x1="-6.8" y1="11.8" x2="-12.6" y2="20.8" stroke="#2e2222" stroke-width="1.8"/><line x1="-3.4" y1="11.8" x2="-6.3" y2="20.8" stroke="#2e2222" stroke-width="1.8"/><line x1="0.0" y1="11.8" x2="0.0" y2="20.8" stroke="#2e2222" stroke-width="1.8"/><line x1="3.4" y1="11.8" x2="6.3" y2="20.8" stroke="#2e2222" stroke-width="1.8"/><line x1="6.8" y1="11.8" x2="12.6" y2="20.8" stroke="#2e2222" stroke-width="1.8"/><line x1="10.2" y1="11.8" x2="18.9" y2="20.8" stroke="#2e2222" stroke-width="1.8"/><path d="M-19,16.2 Q0,14.5 19,16.2" fill="none" stroke="#2e2222" stroke-width="0.8"/><rect x="-21.9" y="21" width="43.8" height="7.2" fill="#fff" stroke="#2e2222" stroke-width="1.2"/><line x1="-21.9" y1="26.7" x2="21.9" y2="26.7" stroke="#2e2222" stroke-width="0.9"/><path d="M-21.4,28.2 C-20.8,34 -20.4,38 -20,42.6 L20,42.6 C20.4,38 20.8,34 21.4,28.2" fill="#fff" stroke="#2e2222" stroke-width="1.1"/><line x1="-17.9" y1="28.2" x2="-17.2" y2="42.6" stroke="#2e2222" stroke-width="1.7"/><line x1="-14.8" y1="28.2" x2="-14.2" y2="42.6" stroke="#2e2222" stroke-width="1.7"/><line x1="-10.4" y1="28.2" x2="-10.0" y2="42.6" stroke="#2e2222" stroke-width="1.7"/><line x1="-3.5" y1="28.2" x2="-3.4" y2="42.6" stroke="#2e2222" stroke-width="1.7"/><line x1="3.4" y1="28.2" x2="3.3" y2="42.6" stroke="#2e2222" stroke-width="1.7"/><line x1="10.3" y1="28.2" x2="9.9" y2="42.6" stroke="#2e2222" stroke-width="1.7"/><line x1="15.9" y1="28.2" x2="15.3" y2="42.6" stroke="#2e2222" stroke-width="1.7"/><line x1="19.1" y1="28.2" x2="18.3" y2="42.6" stroke="#2e2222" stroke-width="1.7"/><rect x="-20.2" y="42.6" width="40.4" height="3.9" fill="#fff" stroke="#2e2222" stroke-width="1.1"/><line x1="-20" y1="44.55" x2="20" y2="44.55" stroke="#2e2222" stroke-width="3.9" stroke-dasharray="1.6 1.9"/><path d="M-18.3,46.5 L-18.3,64 C-18.3,72 -13.5,79 -8.8,82 L8.8,82 C13.5,79 18.3,72 18.3,64 L18.3,46.5" fill="none" stroke="#2e2222" stroke-width="1.5"/><path d="M-15.8,46.5 L-15.8,64 C-15.8,72 -11,79 -5.5,82 M15.8,46.5 L15.8,64 C15.8,72 11,79 5.5,82" fill="none" stroke="#2e2222" stroke-width="1"/><path d="M-6,46.5 L-6,82 M6,46.5 L6,82" fill="none" stroke="#2e2222" stroke-width="1.4"/><path d="M-18.6,54.4 L18.6,54.4 M-18.6,63.9 L18.6,63.9 M-17,72.7 L17,72.7" fill="none" stroke="#2e2222" stroke-width="1.4"/></g>
<line x1="441.5" y1="467.3" x2="441.5" y2="582.8" stroke="#959595" stroke-width="1"/>
<path d="M441.5,467.3 L443.1,474.5 L439.9,474.5 Z" fill="#111"/>
<path d="M441.5,582.8 L439.9,575.6 L443.1,575.6 Z" fill="#111"/>
<text x="434" y="525.05" transform="rotate(-90 434 525.05)" text-anchor="middle" dominant-baseline="central" font-size="10.6" fill="#222">1120</text>
<line x1="438" y1="582.8" x2="462" y2="582.8" stroke="#959595" stroke-width="1"/>
<line x1="707.4" y1="430.5" x2="707.4" y2="581.6" stroke="#666" stroke-width="1"/>
<line x1="707.4" y1="430.5" x2="707.4" y2="505.7" stroke="#444" stroke-width="1"/>
<path d="M707.4,432.3 L713.4,426.3 M707.4,441.5 L713.4,435.5 M707.4,450.7 L713.4,444.7 M707.4,459.9 L713.4,453.9 M707.4,469.1 L713.4,463.1 M707.4,478.3 L713.4,472.3 M707.4,487.5 L713.4,481.5 M707.4,496.7 L713.4,490.7 M707.4,505.9 L713.4,499.9 " stroke="#333" stroke-width="0.9" fill="none"/>
<line x1="701.5" y1="434.2" x2="656.5" y2="492.7" stroke="#222" stroke-width="1.7"/>
<ellipse cx="663.2" cy="484.0" rx="6" ry="1.6" transform="rotate(127.6 663.2 484.0)" fill="#fff" stroke="#222" stroke-width="1"/>
<circle cx="656.5" cy="492.7" r="1.8" fill="#fff" stroke="#222" stroke-width="1"/>
<path d="M698.5,433.2 q2,-3 4,-1" fill="none" stroke="#222" stroke-width="1"/>
<path d="M680,495.3 L668,495.3 Q650,496 636.5,507.5" fill="none" stroke="#3a3030" stroke-width="4.4" stroke-linecap="butt"/>
<path d="M680,495.3 L668,495.3 Q650,496 636.5,507.5" fill="none" stroke="#fff" stroke-width="2.4" stroke-linecap="butt"/>
<path d="M701,489 L707.4,489 M701,501.5 L707.4,501.5 M702.5,486 L702.5,504.5" stroke="#2e2222" stroke-width="1.2" fill="none"/><rect x="703" y="487.5" width="4" height="3" fill="#2e2222"/><rect x="703" y="500" width="4" height="3" fill="#2e2222"/>
<g transform="translate(692.3,495.2) rotate(-90)"><rect x="7.8" y="-3.8" width="7.0" height="7.5" rx="1" fill="#fff" stroke="#2e2222" stroke-width="1.3"/><line x1="14.2" y1="-3.8" x2="14.2" y2="3.8" stroke="#2e2222" stroke-width="1.6"/></g><g transform="translate(692.3,495.2) rotate(90)"><rect x="7.8" y="-3.8" width="7.0" height="7.5" rx="1" fill="#fff" stroke="#2e2222" stroke-width="1.3"/><line x1="14.2" y1="-3.8" x2="14.2" y2="3.8" stroke="#2e2222" stroke-width="1.6"/></g><g transform="translate(692.3,495.2) rotate(180)"><rect x="7.8" y="-3.8" width="7.0" height="7.5" rx="1" fill="#fff" stroke="#2e2222" stroke-width="1.3"/><line x1="14.2" y1="-3.8" x2="14.2" y2="3.8" stroke="#2e2222" stroke-width="1.6"/></g><circle cx="692.3" cy="495.2" r="8.8" fill="#fff" stroke="#2e2222" stroke-width="1.3"/><circle cx="692.3" cy="495.2" r="6.0" fill="none" stroke="#2e2222" stroke-width="0.8"/><path d="M688.8,498.3 Q692.3,501.4 695.8,498.3" fill="none" stroke="#2e2222" stroke-width="1.2"/><circle cx="692.3" cy="493.4" r="0.9" fill="#2e2222"/>
<g transform="translate(640.5,506) rotate(60) scale(1.32,1.29)"><rect x="-3.6" y="0" width="7.2" height="3.9" rx="0.8" fill="#fff" stroke="#2e2222" stroke-width="1.1"/><line x1="-3.4" y1="2" x2="3.4" y2="2" stroke="#2e2222" stroke-width="1.6"/><path d="M-7.6,11.6 L-7.6,7.2 Q-7.6,3.9 -4.2,3.9 L4.2,3.9 Q7.6,3.9 7.6,7.2 L7.6,11.6" fill="#fff" stroke="#2e2222" stroke-width="1.1"/><path d="M-21.7,21 L-20.5,17 Q-17,12 -11,11.5 L11,11.5 Q17,12 20.5,17 L21.7,21 Z" fill="#fff" stroke="#2e2222" stroke-width="1.2"/><line x1="-10.2" y1="11.8" x2="-18.9" y2="20.8" stroke="#2e2222" stroke-width="1.8"/><line x1="-6.8" y1="11.8" x2="-12.6" y2="20.8" stroke="#2e2222" stroke-width="1.8"/><line x1="-3.4" y1="11.8" x2="-6.3" y2="20.8" stroke="#2e2222" stroke-width="1.8"/><line x1="0.0" y1="11.8" x2="0.0" y2="20.8" stroke="#2e2222" stroke-width="1.8"/><line x1="3.4" y1="11.8" x2="6.3" y2="20.8" stroke="#2e2222" stroke-width="1.8"/><line x1="6.8" y1="11.8" x2="12.6" y2="20.8" stroke="#2e2222" stroke-width="1.8"/><line x1="10.2" y1="11.8" x2="18.9" y2="20.8" stroke="#2e2222" stroke-width="1.8"/><path d="M-19,16.2 Q0,14.5 19,16.2" fill="none" stroke="#2e2222" stroke-width="0.8"/><rect x="-21.9" y="21" width="43.8" height="7.2" fill="#fff" stroke="#2e2222" stroke-width="1.2"/><line x1="-21.9" y1="26.7" x2="21.9" y2="26.7" stroke="#2e2222" stroke-width="0.9"/><path d="M-21.4,28.2 C-20.8,34 -20.4,38 -20,42.6 L20,42.6 C20.4,38 20.8,34 21.4,28.2" fill="#fff" stroke="#2e2222" stroke-width="1.1"/><line x1="-17.9" y1="28.2" x2="-17.2" y2="42.6" stroke="#2e2222" stroke-width="1.7"/><line x1="-14.8" y1="28.2" x2="-14.2" y2="42.6" stroke="#2e2222" stroke-width="1.7"/><line x1="-10.4" y1="28.2" x2="-10.0" y2="42.6" stroke="#2e2222" stroke-width="1.7"/><line x1="-3.5" y1="28.2" x2="-3.4" y2="42.6" stroke="#2e2222" stroke-width="1.7"/><line x1="3.4" y1="28.2" x2="3.3" y2="42.6" stroke="#2e2222" stroke-width="1.7"/><line x1="10.3" y1="28.2" x2="9.9" y2="42.6" stroke="#2e2222" stroke-width="1.7"/><line x1="15.9" y1="28.2" x2="15.3" y2="42.6" stroke="#2e2222" stroke-width="1.7"/><line x1="19.1" y1="28.2" x2="18.3" y2="42.6" stroke="#2e2222" stroke-width="1.7"/><rect x="-20.2" y="42.6" width="40.4" height="3.9" fill="#fff" stroke="#2e2222" stroke-width="1.1"/><line x1="-20" y1="44.55" x2="20" y2="44.55" stroke="#2e2222" stroke-width="3.9" stroke-dasharray="1.6 1.9"/><path d="M-18.3,46.5 L-18.3,64 C-18.3,72 -13.5,79 -8.8,82 L8.8,82 C13.5,79 18.3,72 18.3,64 L18.3,46.5" fill="none" stroke="#2e2222" stroke-width="1.5"/><path d="M-15.8,46.5 L-15.8,64 C-15.8,72 -11,79 -5.5,82 M15.8,46.5 L15.8,64 C15.8,72 11,79 5.5,82" fill="none" stroke="#2e2222" stroke-width="1"/><path d="M-6,46.5 L-6,82 M6,46.5 L6,82" fill="none" stroke="#2e2222" stroke-width="1.4"/><path d="M-18.6,54.4 L18.6,54.4 M-18.6,63.9 L18.6,63.9 M-17,72.7 L17,72.7" fill="none" stroke="#2e2222" stroke-width="1.4"/></g>
<line x1="543.7" y1="552" x2="543.7" y2="582" stroke="#959595" stroke-width="1"/>
<line x1="543.7" y1="580.3" x2="707.4" y2="580.3" stroke="#959595" stroke-width="1"/>
<path d="M543.7,580.3 L550.9,578.7 L550.9,581.9 Z" fill="#111"/>
<path d="M707.4,580.3 L700.2,581.9 L700.2,578.7 Z" fill="#111"/>
<text x="625.6" y="573.4" text-anchor="middle" dominant-baseline="central" font-size="10" fill="#222">905</text>
<line x1="159.6" y1="707" x2="159.6" y2="901.7" stroke="#666" stroke-width="1"/>
<line x1="159.6" y1="707" x2="159.6" y2="791" stroke="#444" stroke-width="1"/>
<path d="M159.6,713.0 L165.6,707.0 M159.6,722.8 L165.6,716.8 M159.6,732.5 L165.6,726.5 M159.6,742.2 L165.6,736.2 M159.6,752.0 L165.6,746.0 M159.6,761.8 L165.6,755.8 M159.6,771.5 L165.6,765.5 M159.6,781.2 L165.6,775.2 M159.6,791.0 L165.6,785.0 " stroke="#333" stroke-width="0.9" fill="none"/>
<line x1="153.6" y1="710.4" x2="102.6" y2="775.6" stroke="#222" stroke-width="1.7"/>
<ellipse cx="109.4" cy="766.9" rx="6" ry="1.6" transform="rotate(128.0 109.4 766.9)" fill="#fff" stroke="#222" stroke-width="1"/>
<circle cx="102.6" cy="775.6" r="1.8" fill="#fff" stroke="#222" stroke-width="1"/>
<path d="M150.6,709.4 q2,-3 4,-1" fill="none" stroke="#222" stroke-width="1"/>
<path d="M136,779.5 L108,779.5 Q92,780 84.5,801" fill="none" stroke="#3a3030" stroke-width="4.8" stroke-linecap="butt"/>
<path d="M136,779.5 L108,779.5 Q92,780 84.5,801" fill="none" stroke="#fff" stroke-width="2.8" stroke-linecap="butt"/>
<path d="M154,774 L159.6,774 M154,785.5 L159.6,785.5 M155.5,771 L155.5,788.5" stroke="#2e2222" stroke-width="1.2" fill="none"/><rect x="156" y="772.5" width="3.6" height="3" fill="#2e2222"/><rect x="156" y="784" width="3.6" height="3" fill="#2e2222"/>
<g transform="translate(147,779.8) rotate(-90)"><rect x="7.0" y="-3.0" width="6.5" height="6.0" rx="1" fill="#fff" stroke="#2e2222" stroke-width="1.3"/><line x1="12.9" y1="-3.0" x2="12.9" y2="3.0" stroke="#2e2222" stroke-width="1.6"/></g><g transform="translate(147,779.8) rotate(90)"><rect x="7.0" y="-3.0" width="6.5" height="6.0" rx="1" fill="#fff" stroke="#2e2222" stroke-width="1.3"/><line x1="12.9" y1="-3.0" x2="12.9" y2="3.0" stroke="#2e2222" stroke-width="1.6"/></g><g transform="translate(147,779.8) rotate(180)"><rect x="7.0" y="-3.0" width="6.5" height="6.0" rx="1" fill="#fff" stroke="#2e2222" stroke-width="1.3"/><line x1="12.9" y1="-3.0" x2="12.9" y2="3.0" stroke="#2e2222" stroke-width="1.6"/></g><circle cx="147" cy="779.8" r="8" fill="#fff" stroke="#2e2222" stroke-width="1.3"/><circle cx="147" cy="779.8" r="5.4" fill="none" stroke="#2e2222" stroke-width="0.8"/><path d="M143.8,782.6 Q147,785.4 150.2,782.6" fill="none" stroke="#2e2222" stroke-width="1.2"/><circle cx="147" cy="778.2" r="0.9" fill="#2e2222"/>
<g transform="translate(85,802) rotate(29) scale(1.18,1.06)"><rect x="-3.6" y="0" width="7.2" height="3.9" rx="0.8" fill="#fff" stroke="#2e2222" stroke-width="1.1"/><line x1="-3.4" y1="2" x2="3.4" y2="2" stroke="#2e2222" stroke-width="1.6"/><path d="M-7.6,11.6 L-7.6,7.2 Q-7.6,3.9 -4.2,3.9 L4.2,3.9 Q7.6,3.9 7.6,7.2 L7.6,11.6" fill="#fff" stroke="#2e2222" stroke-width="1.1"/><path d="M-21.7,21 L-20.5,17 Q-17,12 -11,11.5 L11,11.5 Q17,12 20.5,17 L21.7,21 Z" fill="#fff" stroke="#2e2222" stroke-width="1.2"/><line x1="-10.2" y1="11.8" x2="-18.9" y2="20.8" stroke="#2e2222" stroke-width="1.8"/><line x1="-6.8" y1="11.8" x2="-12.6" y2="20.8" stroke="#2e2222" stroke-width="1.8"/><line x1="-3.4" y1="11.8" x2="-6.3" y2="20.8" stroke="#2e2222" stroke-width="1.8"/><line x1="0.0" y1="11.8" x2="0.0" y2="20.8" stroke="#2e2222" stroke-width="1.8"/><line x1="3.4" y1="11.8" x2="6.3" y2="20.8" stroke="#2e2222" stroke-width="1.8"/><line x1="6.8" y1="11.8" x2="12.6" y2="20.8" stroke="#2e2222" stroke-width="1.8"/><line x1="10.2" y1="11.8" x2="18.9" y2="20.8" stroke="#2e2222" stroke-width="1.8"/><path d="M-19,16.2 Q0,14.5 19,16.2" fill="none" stroke="#2e2222" stroke-width="0.8"/><rect x="-21.9" y="21" width="43.8" height="7.2" fill="#fff" stroke="#2e2222" stroke-width="1.2"/><line x1="-21.9" y1="26.7" x2="21.9" y2="26.7" stroke="#2e2222" stroke-width="0.9"/><path d="M-21.4,28.2 C-20.8,34 -20.4,38 -20,42.6 L20,42.6 C20.4,38 20.8,34 21.4,28.2" fill="#fff" stroke="#2e2222" stroke-width="1.1"/><line x1="-17.9" y1="28.2" x2="-17.2" y2="42.6" stroke="#2e2222" stroke-width="1.7"/><line x1="-14.8" y1="28.2" x2="-14.2" y2="42.6" stroke="#2e2222" stroke-width="1.7"/><line x1="-10.4" y1="28.2" x2="-10.0" y2="42.6" stroke="#2e2222" stroke-width="1.7"/><line x1="-3.5" y1="28.2" x2="-3.4" y2="42.6" stroke="#2e2222" stroke-width="1.7"/><line x1="3.4" y1="28.2" x2="3.3" y2="42.6" stroke="#2e2222" stroke-width="1.7"/><line x1="10.3" y1="28.2" x2="9.9" y2="42.6" stroke="#2e2222" stroke-width="1.7"/><line x1="15.9" y1="28.2" x2="15.3" y2="42.6" stroke="#2e2222" stroke-width="1.7"/><line x1="19.1" y1="28.2" x2="18.3" y2="42.6" stroke="#2e2222" stroke-width="1.7"/><rect x="-20.2" y="42.6" width="40.4" height="3.9" fill="#fff" stroke="#2e2222" stroke-width="1.1"/><line x1="-20" y1="44.55" x2="20" y2="44.55" stroke="#2e2222" stroke-width="3.9" stroke-dasharray="1.6 1.9"/><path d="M-18.3,46.5 L-18.3,64 C-18.3,72 -13.5,79 -8.8,82 L8.8,82 C13.5,79 18.3,72 18.3,64 L18.3,46.5" fill="none" stroke="#2e2222" stroke-width="1.5"/><path d="M-15.8,46.5 L-15.8,64 C-15.8,72 -11,79 -5.5,82 M15.8,46.5 L15.8,64 C15.8,72 11,79 5.5,82" fill="none" stroke="#2e2222" stroke-width="1"/><path d="M-6,46.5 L-6,82 M6,46.5 L6,82" fill="none" stroke="#2e2222" stroke-width="1.4"/><path d="M-18.6,54.4 L18.6,54.4 M-18.6,63.9 L18.6,63.9 M-17,72.7 L17,72.7" fill="none" stroke="#2e2222" stroke-width="1.4"/></g>
<line x1="28" y1="869" x2="28" y2="902" stroke="#959595" stroke-width="1"/>
<line x1="28" y1="896.5" x2="159.7" y2="896.5" stroke="#959595" stroke-width="1"/>
<path d="M28.0,896.5 L35.2,894.9 L35.2,898.1 Z" fill="#111"/>
<path d="M159.7,896.5 L152.5,898.1 L152.5,894.9 Z" fill="#111"/>
<text x="94.5" y="888.7" text-anchor="middle" dominant-baseline="central" font-size="10" fill="#222">805</text>
<line x1="289.4" y1="718.6" x2="289.4" y2="824.6" stroke="#666" stroke-width="1"/>
<line x1="289.4" y1="718.6" x2="289.4" y2="820" stroke="#444" stroke-width="1"/>
<path d="M289.4,722.5 L295.4,716.5 M289.4,732.2 L295.4,726.2 M289.4,742.0 L295.4,736.0 M289.4,751.8 L295.4,745.8 M289.4,761.5 L295.4,755.5 M289.4,771.2 L295.4,765.2 M289.4,781.0 L295.4,775.0 M289.4,790.8 L295.4,784.8 M289.4,800.5 L295.4,794.5 M289.4,810.2 L295.4,804.2 M289.4,820.0 L295.4,814.0 " stroke="#333" stroke-width="0.9" fill="none"/>
<line x1="283.9" y1="725" x2="234.5" y2="788.7" stroke="#222" stroke-width="1.7"/>
<ellipse cx="241.2" cy="780.0" rx="6" ry="1.6" transform="rotate(127.8 241.2 780.0)" fill="#fff" stroke="#222" stroke-width="1"/>
<circle cx="234.5" cy="788.7" r="1.8" fill="#fff" stroke="#222" stroke-width="1"/>
<path d="M280.9,724 q2,-3 4,-1" fill="none" stroke="#222" stroke-width="1"/>
<path d="M266,792.2 L239,792.2 Q233.7,792.2 233.7,797.5 L233.7,812" fill="none" stroke="#3a3030" stroke-width="4.6" stroke-linecap="butt"/>
<path d="M266,792.2 L239,792.2 Q233.7,792.2 233.7,797.5 L233.7,812" fill="none" stroke="#fff" stroke-width="2.6" stroke-linecap="butt"/>
<path d="M284,786 L289.4,786 M284,797.5 L289.4,797.5 M285.5,783 L285.5,800.5" stroke="#2e2222" stroke-width="1.2" fill="none"/><rect x="286" y="784.5" width="3.4" height="3" fill="#2e2222"/><rect x="286" y="796" width="3.4" height="3" fill="#2e2222"/>
<g transform="translate(277.4,791.9) rotate(-90)"><rect x="6.5" y="-3.5" width="7.0" height="7.0" rx="1" fill="#fff" stroke="#2e2222" stroke-width="1.3"/><line x1="12.9" y1="-3.5" x2="12.9" y2="3.5" stroke="#2e2222" stroke-width="1.6"/></g><g transform="translate(277.4,791.9) rotate(90)"><rect x="6.5" y="-3.5" width="7.0" height="7.0" rx="1" fill="#fff" stroke="#2e2222" stroke-width="1.3"/><line x1="12.9" y1="-3.5" x2="12.9" y2="3.5" stroke="#2e2222" stroke-width="1.6"/></g><g transform="translate(277.4,791.9) rotate(180)"><rect x="6.5" y="-3.5" width="7.0" height="7.0" rx="1" fill="#fff" stroke="#2e2222" stroke-width="1.3"/><line x1="12.9" y1="-3.5" x2="12.9" y2="3.5" stroke="#2e2222" stroke-width="1.6"/></g><circle cx="277.4" cy="791.9" r="7.5" fill="#fff" stroke="#2e2222" stroke-width="1.3"/><circle cx="277.4" cy="791.9" r="5.1" fill="none" stroke="#2e2222" stroke-width="0.8"/><path d="M274.4,794.5 Q277.4,797.1 280.4,794.5" fill="none" stroke="#2e2222" stroke-width="1.2"/><circle cx="277.4" cy="790.4" r="0.9" fill="#2e2222"/>
<g transform="translate(233.9,811.4) rotate(0) scale(1.113)"><rect x="-3.6" y="0" width="7.2" height="3.9" rx="0.8" fill="#fff" stroke="#2e2222" stroke-width="1.1"/><line x1="-3.4" y1="2" x2="3.4" y2="2" stroke="#2e2222" stroke-width="1.6"/><path d="M-7.6,11.6 L-7.6,7.2 Q-7.6,3.9 -4.2,3.9 L4.2,3.9 Q7.6,3.9 7.6,7.2 L7.6,11.6" fill="#fff" stroke="#2e2222" stroke-width="1.1"/><path d="M-21.7,21 L-20.5,17 Q-17,12 -11,11.5 L11,11.5 Q17,12 20.5,17 L21.7,21 Z" fill="#fff" stroke="#2e2222" stroke-width="1.2"/><line x1="-10.2" y1="11.8" x2="-18.9" y2="20.8" stroke="#2e2222" stroke-width="1.8"/><line x1="-6.8" y1="11.8" x2="-12.6" y2="20.8" stroke="#2e2222" stroke-width="1.8"/><line x1="-3.4" y1="11.8" x2="-6.3" y2="20.8" stroke="#2e2222" stroke-width="1.8"/><line x1="0.0" y1="11.8" x2="0.0" y2="20.8" stroke="#2e2222" stroke-width="1.8"/><line x1="3.4" y1="11.8" x2="6.3" y2="20.8" stroke="#2e2222" stroke-width="1.8"/><line x1="6.8" y1="11.8" x2="12.6" y2="20.8" stroke="#2e2222" stroke-width="1.8"/><line x1="10.2" y1="11.8" x2="18.9" y2="20.8" stroke="#2e2222" stroke-width="1.8"/><path d="M-19,16.2 Q0,14.5 19,16.2" fill="none" stroke="#2e2222" stroke-width="0.8"/><rect x="-21.9" y="21" width="43.8" height="7.2" fill="#fff" stroke="#2e2222" stroke-width="1.2"/><line x1="-21.9" y1="26.7" x2="21.9" y2="26.7" stroke="#2e2222" stroke-width="0.9"/><path d="M-21.4,28.2 C-20.8,34 -20.4,38 -20,42.6 L20,42.6 C20.4,38 20.8,34 21.4,28.2" fill="#fff" stroke="#2e2222" stroke-width="1.1"/><line x1="-17.9" y1="28.2" x2="-17.2" y2="42.6" stroke="#2e2222" stroke-width="1.7"/><line x1="-14.8" y1="28.2" x2="-14.2" y2="42.6" stroke="#2e2222" stroke-width="1.7"/><line x1="-10.4" y1="28.2" x2="-10.0" y2="42.6" stroke="#2e2222" stroke-width="1.7"/><line x1="-3.5" y1="28.2" x2="-3.4" y2="42.6" stroke="#2e2222" stroke-width="1.7"/><line x1="3.4" y1="28.2" x2="3.3" y2="42.6" stroke="#2e2222" stroke-width="1.7"/><line x1="10.3" y1="28.2" x2="9.9" y2="42.6" stroke="#2e2222" stroke-width="1.7"/><line x1="15.9" y1="28.2" x2="15.3" y2="42.6" stroke="#2e2222" stroke-width="1.7"/><line x1="19.1" y1="28.2" x2="18.3" y2="42.6" stroke="#2e2222" stroke-width="1.7"/><rect x="-20.2" y="42.6" width="40.4" height="3.9" fill="#fff" stroke="#2e2222" stroke-width="1.1"/><line x1="-20" y1="44.55" x2="20" y2="44.55" stroke="#2e2222" stroke-width="3.9" stroke-dasharray="1.6 1.9"/><path d="M-18.3,46.5 L-18.3,64 C-18.3,72 -13.5,79 -8.8,82 L8.8,82 C13.5,79 18.3,72 18.3,64 L18.3,46.5" fill="none" stroke="#2e2222" stroke-width="1.5"/><path d="M-15.8,46.5 L-15.8,64 C-15.8,72 -11,79 -5.5,82 M15.8,46.5 L15.8,64 C15.8,72 11,79 5.5,82" fill="none" stroke="#2e2222" stroke-width="1"/><path d="M-6,46.5 L-6,82 M6,46.5 L6,82" fill="none" stroke="#2e2222" stroke-width="1.4"/><path d="M-18.6,54.4 L18.6,54.4 M-18.6,63.9 L18.6,63.9 M-17,72.7 L17,72.7" fill="none" stroke="#2e2222" stroke-width="1.4"/></g>
<line x1="198.7" y1="791.8" x2="198.7" y2="903" stroke="#959595" stroke-width="1"/>
<path d="M198.7,791.8 L200.3,799.0 L197.1,799.0 Z" fill="#111"/>
<path d="M198.7,903.0 L197.1,895.8 L200.3,895.8 Z" fill="#111"/>
<text x="194" y="847.4" transform="rotate(-90 194 847.4)" text-anchor="middle" dominant-baseline="central" font-size="10.6" fill="#222">636</text>
<line x1="193" y1="791.8" x2="233" y2="791.8" stroke="#959595" stroke-width="1"/>
<line x1="193" y1="903" x2="223" y2="903" stroke="#959595" stroke-width="1"/>
<line x1="235.6" y1="818.4" x2="289.3" y2="818.4" stroke="#959595" stroke-width="1"/>
<path d="M288.8,818.4 L281.6,820.0 L281.6,816.8 Z" fill="#111"/>
<path d="M235.8,818.4 L243.0,816.8 L243.0,820.0 Z" fill="#111"/>
<text x="261.4" y="810" text-anchor="middle" dominant-baseline="central" font-size="10.5" fill="#222">410</text>
<line x1="368.5" y1="658.5" x2="368.5" y2="875.9" stroke="#959595" stroke-width="1"/>
<path d="M368.5,658.5 L370.1,665.7 L366.9,665.7 Z" fill="#111"/>
<path d="M368.5,875.9 L366.9,868.7 L370.1,868.7 Z" fill="#111"/>
<text x="361.5" y="767.2" transform="rotate(-90 361.5 767.2)" text-anchor="middle" dominant-baseline="central" font-size="10.6" fill="#222">2300</text>
<line x1="365" y1="658.5" x2="431" y2="658.5" stroke="#959595" stroke-width="1"/>
<line x1="365" y1="875.9" x2="384" y2="875.9" stroke="#959595" stroke-width="1"/>
<path d="M384.3,876 L384.3,717 M390,717 L390,876 " stroke="#5a5a5a" stroke-width="1" fill="none"/>
<rect x="384" y="711" width="7" height="6" fill="#fff" stroke="#555" stroke-width="1"/>
<path d="M387.4,711 L387.4,668 C387.4,652 398,645 410,645 C422,645 430,651 435,660" fill="none" stroke="#555" stroke-width="4.6" stroke-linecap="butt"/>
<path d="M387.4,711 L387.4,668 C387.4,652 398,645 410,645 C422,645 430,651 435,660" fill="none" stroke="#fff" stroke-width="2.6" stroke-linecap="butt"/>
<path d="M384.3,876 L384.3,806 Q382,805 381.8,807 L381.8,876" stroke="#5a5a5a" stroke-width="1" fill="none"/>
<rect x="378.5" y="822.9" width="15" height="3.4" rx="1.7" fill="#fff" stroke="#2e2222" stroke-width="1"/>
<rect x="378.5" y="852.0999999999999" width="15" height="3.4" rx="1.7" fill="#fff" stroke="#2e2222" stroke-width="1"/>
<rect x="384" y="895" width="3.2" height="11" fill="#fff" stroke="#2e2222" stroke-width="0.9"/>
<rect x="384.5" y="878" width="5" height="7" fill="#fff" stroke="#555" stroke-width="0.9"/>
<rect x="383.8" y="876" width="6.4" height="3.8" fill="#fff" stroke="#2e2222" stroke-width="1.5"/>
<g transform="translate(386.7,891.2) rotate(180)"><rect x="5.5" y="-2.8" width="7.0" height="5.5" rx="1" fill="#fff" stroke="#2e2222" stroke-width="1.1"/><line x1="11.9" y1="-2.8" x2="11.9" y2="2.8" stroke="#2e2222" stroke-width="1.6"/></g><g transform="translate(386.7,891.2) rotate(0)"><rect x="5.5" y="-2.8" width="7.0" height="5.5" rx="1" fill="#fff" stroke="#2e2222" stroke-width="1.1"/><line x1="11.9" y1="-2.8" x2="11.9" y2="2.8" stroke="#2e2222" stroke-width="1.6"/></g><circle cx="386.7" cy="891.2" r="6.5" fill="#fff" stroke="#2e2222" stroke-width="1.1"/><circle cx="386.7" cy="891.2" r="4.4" fill="none" stroke="#2e2222" stroke-width="0.8"/><path d="M384.1,893.5 Q386.7,895.8 389.3,893.5" fill="none" stroke="#2e2222" stroke-width="1.2"/><circle cx="386.7" cy="889.9" r="0.9" fill="#2e2222"/>
<g transform="translate(440,662) rotate(-23) scale(1.36,1.3)"><rect x="-3.6" y="0" width="7.2" height="3.9" rx="0.8" fill="#fff" stroke="#2e2222" stroke-width="1.1"/><line x1="-3.4" y1="2" x2="3.4" y2="2" stroke="#2e2222" stroke-width="1.6"/><path d="M-7.6,11.6 L-7.6,7.2 Q-7.6,3.9 -4.2,3.9 L4.2,3.9 Q7.6,3.9 7.6,7.2 L7.6,11.6" fill="#fff" stroke="#2e2222" stroke-width="1.1"/><path d="M-21.7,21 L-20.5,17 Q-17,12 -11,11.5 L11,11.5 Q17,12 20.5,17 L21.7,21 Z" fill="#fff" stroke="#2e2222" stroke-width="1.2"/><line x1="-10.2" y1="11.8" x2="-18.9" y2="20.8" stroke="#2e2222" stroke-width="1.8"/><line x1="-6.8" y1="11.8" x2="-12.6" y2="20.8" stroke="#2e2222" stroke-width="1.8"/><line x1="-3.4" y1="11.8" x2="-6.3" y2="20.8" stroke="#2e2222" stroke-width="1.8"/><line x1="0.0" y1="11.8" x2="0.0" y2="20.8" stroke="#2e2222" stroke-width="1.8"/><line x1="3.4" y1="11.8" x2="6.3" y2="20.8" stroke="#2e2222" stroke-width="1.8"/><line x1="6.8" y1="11.8" x2="12.6" y2="20.8" stroke="#2e2222" stroke-width="1.8"/><line x1="10.2" y1="11.8" x2="18.9" y2="20.8" stroke="#2e2222" stroke-width="1.8"/><path d="M-19,16.2 Q0,14.5 19,16.2" fill="none" stroke="#2e2222" stroke-width="0.8"/><rect x="-21.9" y="21" width="43.8" height="7.2" fill="#fff" stroke="#2e2222" stroke-width="1.2"/><line x1="-21.9" y1="26.7" x2="21.9" y2="26.7" stroke="#2e2222" stroke-width="0.9"/><path d="M-21.4,28.2 C-20.8,34 -20.4,38 -20,42.6 L20,42.6 C20.4,38 20.8,34 21.4,28.2" fill="#fff" stroke="#2e2222" stroke-width="1.1"/><line x1="-17.9" y1="28.2" x2="-17.2" y2="42.6" stroke="#2e2222" stroke-width="1.7"/><line x1="-14.8" y1="28.2" x2="-14.2" y2="42.6" stroke="#2e2222" stroke-width="1.7"/><line x1="-10.4" y1="28.2" x2="-10.0" y2="42.6" stroke="#2e2222" stroke-width="1.7"/><line x1="-3.5" y1="28.2" x2="-3.4" y2="42.6" stroke="#2e2222" stroke-width="1.7"/><line x1="3.4" y1="28.2" x2="3.3" y2="42.6" stroke="#2e2222" stroke-width="1.7"/><line x1="10.3" y1="28.2" x2="9.9" y2="42.6" stroke="#2e2222" stroke-width="1.7"/><line x1="15.9" y1="28.2" x2="15.3" y2="42.6" stroke="#2e2222" stroke-width="1.7"/><line x1="19.1" y1="28.2" x2="18.3" y2="42.6" stroke="#2e2222" stroke-width="1.7"/><rect x="-20.2" y="42.6" width="40.4" height="3.9" fill="#fff" stroke="#2e2222" stroke-width="1.1"/><line x1="-20" y1="44.55" x2="20" y2="44.55" stroke="#2e2222" stroke-width="3.9" stroke-dasharray="1.6 1.9"/><path d="M-18.3,46.5 L-18.3,64 C-18.3,72 -13.5,79 -8.8,82 L8.8,82 C13.5,79 18.3,72 18.3,64 L18.3,46.5" fill="none" stroke="#2e2222" stroke-width="1.5"/><path d="M-15.8,46.5 L-15.8,64 C-15.8,72 -11,79 -5.5,82 M15.8,46.5 L15.8,64 C15.8,72 11,79 5.5,82" fill="none" stroke="#2e2222" stroke-width="1"/><path d="M-6,46.5 L-6,82 M6,46.5 L6,82" fill="none" stroke="#2e2222" stroke-width="1.4"/><path d="M-18.6,54.4 L18.6,54.4 M-18.6,63.9 L18.6,63.9 M-17,72.7 L17,72.7" fill="none" stroke="#2e2222" stroke-width="1.4"/></g>
<line x1="560.8" y1="660.8" x2="560.8" y2="906.2" stroke="#959595" stroke-width="1"/>
<path d="M560.8,660.8 L562.4,668.0 L559.2,668.0 Z" fill="#111"/>
<path d="M560.8,906.2 L559.2,899.0 L562.4,899.0 Z" fill="#111"/>
<text x="552.5" y="783.5" transform="rotate(-90 552.5 783.5)" text-anchor="middle" dominant-baseline="central" font-size="10.6" fill="#222">2300</text>
<line x1="557" y1="661.3" x2="620" y2="661.3" stroke="#959595" stroke-width="1"/>
<line x1="557" y1="906.2" x2="566" y2="906.2" stroke="#959595" stroke-width="1"/>
<path d="M571.6,906 L571.6,722.3 M577.3,722.3 L577.3,906 " stroke="#5a5a5a" stroke-width="1" fill="none"/>
<rect x="571.3" y="713" width="6.4" height="9.3" fill="#fff" stroke="#555" stroke-width="1"/>
<path d="M574.5,713 L574.5,670 C574.5,655 585,648 597,648 C609,648 617,653 622,661" fill="none" stroke="#555" stroke-width="4.6" stroke-linecap="butt"/>
<path d="M574.5,713 L574.5,670 C574.5,655 585,648 597,648 C609,648 617,653 622,661" fill="none" stroke="#fff" stroke-width="2.6" stroke-linecap="butt"/>
<path d="M565.7,906 L581.9,906 M571.6,899 L566.5,906 M577.3,899 L581,906" stroke="#2e2222" stroke-width="1.4" fill="none"/>
<rect x="577.8" y="879" width="2.5" height="4.5" fill="#2e2222"/>
<g transform="translate(628,665.5) rotate(-23) scale(1.38,1.3)"><rect x="-3.6" y="0" width="7.2" height="3.9" rx="0.8" fill="#fff" stroke="#2e2222" stroke-width="1.1"/><line x1="-3.4" y1="2" x2="3.4" y2="2" stroke="#2e2222" stroke-width="1.6"/><path d="M-7.6,11.6 L-7.6,7.2 Q-7.6,3.9 -4.2,3.9 L4.2,3.9 Q7.6,3.9 7.6,7.2 L7.6,11.6" fill="#fff" stroke="#2e2222" stroke-width="1.1"/><path d="M-21.7,21 L-20.5,17 Q-17,12 -11,11.5 L11,11.5 Q17,12 20.5,17 L21.7,21 Z" fill="#fff" stroke="#2e2222" stroke-width="1.2"/><line x1="-10.2" y1="11.8" x2="-18.9" y2="20.8" stroke="#2e2222" stroke-width="1.8"/><line x1="-6.8" y1="11.8" x2="-12.6" y2="20.8" stroke="#2e2222" stroke-width="1.8"/><line x1="-3.4" y1="11.8" x2="-6.3" y2="20.8" stroke="#2e2222" stroke-width="1.8"/><line x1="0.0" y1="11.8" x2="0.0" y2="20.8" stroke="#2e2222" stroke-width="1.8"/><line x1="3.4" y1="11.8" x2="6.3" y2="20.8" stroke="#2e2222" stroke-width="1.8"/><line x1="6.8" y1="11.8" x2="12.6" y2="20.8" stroke="#2e2222" stroke-width="1.8"/><line x1="10.2" y1="11.8" x2="18.9" y2="20.8" stroke="#2e2222" stroke-width="1.8"/><path d="M-19,16.2 Q0,14.5 19,16.2" fill="none" stroke="#2e2222" stroke-width="0.8"/><rect x="-21.9" y="21" width="43.8" height="7.2" fill="#fff" stroke="#2e2222" stroke-width="1.2"/><line x1="-21.9" y1="26.7" x2="21.9" y2="26.7" stroke="#2e2222" stroke-width="0.9"/><path d="M-21.4,28.2 C-20.8,34 -20.4,38 -20,42.6 L20,42.6 C20.4,38 20.8,34 21.4,28.2" fill="#fff" stroke="#2e2222" stroke-width="1.1"/><line x1="-17.9" y1="28.2" x2="-17.2" y2="42.6" stroke="#2e2222" stroke-width="1.7"/><line x1="-14.8" y1="28.2" x2="-14.2" y2="42.6" stroke="#2e2222" stroke-width="1.7"/><line x1="-10.4" y1="28.2" x2="-10.0" y2="42.6" stroke="#2e2222" stroke-width="1.7"/><line x1="-3.5" y1="28.2" x2="-3.4" y2="42.6" stroke="#2e2222" stroke-width="1.7"/><line x1="3.4" y1="28.2" x2="3.3" y2="42.6" stroke="#2e2222" stroke-width="1.7"/><line x1="10.3" y1="28.2" x2="9.9" y2="42.6" stroke="#2e2222" stroke-width="1.7"/><line x1="15.9" y1="28.2" x2="15.3" y2="42.6" stroke="#2e2222" stroke-width="1.7"/><line x1="19.1" y1="28.2" x2="18.3" y2="42.6" stroke="#2e2222" stroke-width="1.7"/><rect x="-20.2" y="42.6" width="40.4" height="3.9" fill="#fff" stroke="#2e2222" stroke-width="1.1"/><line x1="-20" y1="44.55" x2="20" y2="44.55" stroke="#2e2222" stroke-width="3.9" stroke-dasharray="1.6 1.9"/><path d="M-18.3,46.5 L-18.3,64 C-18.3,72 -13.5,79 -8.8,82 L8.8,82 C13.5,79 18.3,72 18.3,64 L18.3,46.5" fill="none" stroke="#2e2222" stroke-width="1.5"/><path d="M-15.8,46.5 L-15.8,64 C-15.8,72 -11,79 -5.5,82 M15.8,46.5 L15.8,64 C15.8,72 11,79 5.5,82" fill="none" stroke="#2e2222" stroke-width="1"/><path d="M-6,46.5 L-6,82 M6,46.5 L6,82" fill="none" stroke="#2e2222" stroke-width="1.4"/><path d="M-18.6,54.4 L18.6,54.4 M-18.6,63.9 L18.6,63.9 M-17,72.7 L17,72.7" fill="none" stroke="#2e2222" stroke-width="1.4"/></g>
<rect x="659.3" y="810.2" width="24" height="25.1" fill="none" stroke="#666" stroke-width="0.9"/>
<line x1="683.3" y1="810.2" x2="726" y2="810.2" stroke="#777" stroke-width="1"/>
<line x1="683.3" y1="835.3" x2="726" y2="835.3" stroke="#777" stroke-width="1"/>
<line x1="683.3" y1="813.5" x2="707" y2="813.5" stroke="#777" stroke-width="1"/>
<line x1="683.3" y1="831.6" x2="707" y2="831.6" stroke="#777" stroke-width="1"/>
<line x1="659.3" y1="822.9" x2="683.3" y2="822.9" stroke="#777" stroke-width="1"/>
<line x1="671.3" y1="810.2" x2="671.3" y2="835.3" stroke="#777" stroke-width="1"/>
<line x1="679.5" y1="813" x2="679.5" y2="832" stroke="#777" stroke-width="1"/>
<circle cx="671.3" cy="822.9" r="2.8" fill="#fff" stroke="#333" stroke-width="1"/>
<circle cx="662.5" cy="813.5" r="0.7" fill="#333"/>
<circle cx="680.3" cy="813.5" r="0.7" fill="#333"/>
<circle cx="662.5" cy="831.6" r="0.7" fill="#333"/>
<circle cx="680.3" cy="831.6" r="0.7" fill="#333"/>
<line x1="705" y1="794" x2="705" y2="851.8" stroke="#888" stroke-width="1"/>
<path d="M705.0,813.5 L703.6,807.5 L706.4,807.5 Z" fill="#111"/>
<path d="M705.0,831.6 L706.4,837.6 L703.6,837.6 Z" fill="#111"/>
<line x1="723.8" y1="791.8" x2="723.8" y2="855.6" stroke="#888" stroke-width="1"/>
<path d="M723.8,810.2 L722.4,804.2 L725.2,804.2 Z" fill="#111"/>
<path d="M723.8,835.3 L725.2,841.3 L722.4,841.3 Z" fill="#111"/>
<text x="700.6" y="822" transform="rotate(-90 700.6 822)" text-anchor="middle" dominant-baseline="central" font-size="10.5" fill="#222">100</text>
<text x="719.3" y="822" transform="rotate(-90 719.3 822)" text-anchor="middle" dominant-baseline="central" font-size="10.5" fill="#222">150</text>
<line x1="662.3" y1="835.3" x2="662.3" y2="858" stroke="#888" stroke-width="1"/>
<line x1="680.3" y1="835.3" x2="680.3" y2="858" stroke="#888" stroke-width="1"/>
<line x1="642" y1="855.6" x2="697.6" y2="855.6" stroke="#888" stroke-width="1"/>
<path d="M662.3,855.6 L656.3,857.0 L656.3,854.2 Z" fill="#111"/>
<path d="M680.3,855.6 L686.3,854.2 L686.3,857.0 Z" fill="#111"/>
<text x="671.6" y="849.6" text-anchor="middle" dominant-baseline="central" font-size="10.5" fill="#222">100</text>
<line x1="659.3" y1="835.3" x2="659.3" y2="878" stroke="#888" stroke-width="1"/>
<line x1="683.3" y1="835.3" x2="683.3" y2="878" stroke="#888" stroke-width="1"/>
<line x1="639.8" y1="875.9" x2="703.6" y2="875.9" stroke="#888" stroke-width="1"/>
<path d="M659.3,875.9 L653.3,877.3 L653.3,874.5 Z" fill="#111"/>
<path d="M683.3,875.9 L689.3,874.5 L689.3,877.3 Z" fill="#111"/>
<text x="671.6" y="869.8" text-anchor="middle" dominant-baseline="central" font-size="10.5" fill="#222">150</text>
<path d="M726,785.8 L681,785.8 L681,810.2" stroke="#777" stroke-width="0.9" fill="none"/>
<path d="M681.0,810.2 L679.6,804.2 L682.4,804.2 Z" fill="#111"/>
<path d="M680.0,813.5 L681.4,819.5 L678.6,819.5 Z" fill="#111"/>
<text x="705.5" y="781.3" text-anchor="middle" dominant-baseline="central" font-size="10.5" fill="#222">4- ϕ 11</text>
</svg></body></html>
